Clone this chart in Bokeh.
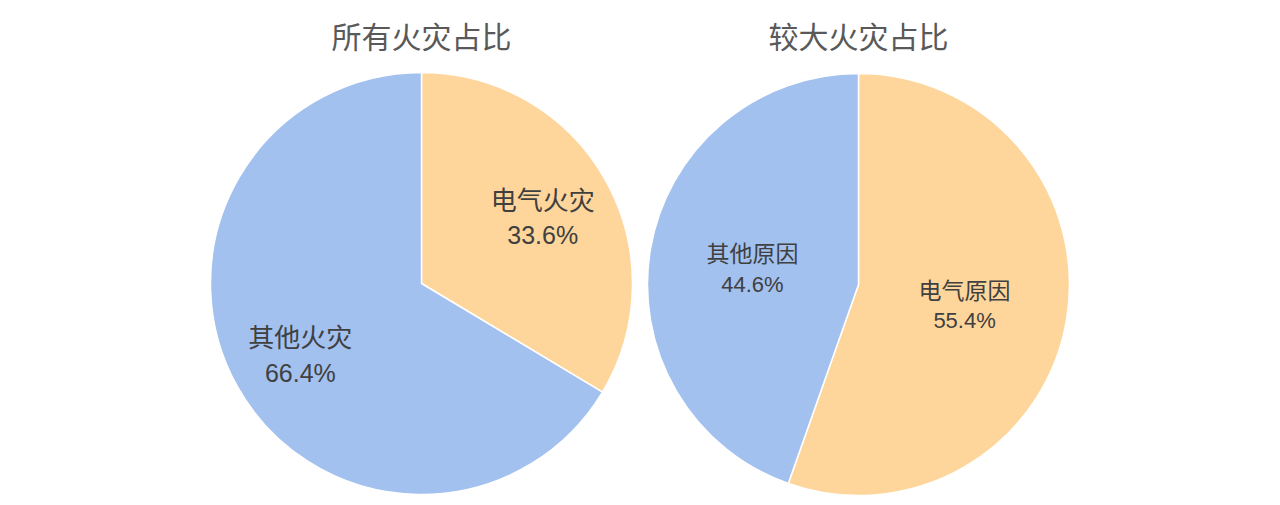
import numpy as np
from bokeh.plotting import figure
from bokeh.models import Range1d
from bokeh.core.properties import value
from bokeh.embed import file_html
from bokeh.resources import INLINE

# ---- data ----
titles = ["所有火灾占比", "较大火灾占比"]
all_fire_labels = ["电气火灾", "其他火灾"]
all_fire_values = [33.6, 66.4]
big_fire_labels = ["电气原因", "其他原因"]
big_fire_values = [55.4, 44.6]

# ---- style ----
COLORS = ["#FED69B", "#A2C1EF"]
W, H = 1280, 505
CJK = "Noto Sans CJK SC"
LATIN = "Liberation Sans"

p = figure(width=W, height=H, output_backend="svg", toolbar_location=None,
           x_range=Range1d(0, W), y_range=Range1d(0, H), min_border=0,
           tools="")
p.xaxis.visible = False
p.yaxis.visible = False
p.grid.visible = False
p.outline_line_color = None
p.background_fill_color = "white"
p.border_fill_color = "white"

pies = [
    dict(cx=421, cy=222, r=211, labels=all_fire_labels, values=all_fire_values,
         title=titles[0], lf=0.66, fs_cjk=26, fs_num=25, gap=37),
    dict(cx=858, cy=221, r=211, labels=big_fire_labels, values=big_fire_values,
         title=titles[1], lf=0.51, fs_cjk=23, fs_num=22, gap=32),
]

for pie in pies:
    vals = np.array(pie["values"], dtype=float)
    frac = vals / vals.sum()
    cum_end = np.cumsum(frac) * 2 * np.pi
    cum_start = cum_end - frac * 2 * np.pi
    mid = (cum_start + cum_end) / 2
    p.wedge(x=pie["cx"], y=pie["cy"], radius=pie["r"],
            start_angle=list(np.pi / 2 - cum_end),
            end_angle=list(np.pi / 2 - cum_start),
            direction="anticlock",
            fill_color=COLORS, line_color="white", line_width=1.5)
    rr = pie["lf"] * pie["r"]
    lx = pie["cx"] + rr * np.sin(mid)
    ly = pie["cy"] + rr * np.cos(mid) - 2
    g = pie["gap"] / 2
    p.text(x=list(lx), y=list(ly + g), text=pie["labels"],
           text_font=value(CJK), text_font_size=f"{pie['fs_cjk']}px",
           text_color="#404040", text_align="center", text_baseline="middle")
    pct = [f"{v:.1f}%" for v in pie["values"]]
    p.text(x=list(lx), y=list(ly - g), text=pct,
           text_font=value(LATIN), text_font_size=f"{pie['fs_num']}px",
           text_color="#404040", text_align="center", text_baseline="middle")
    p.text(x=[pie["cx"]], y=[H - 34], text=[pie["title"]],
           text_font=value(CJK), text_font_size="30px",
           text_color="#595959", text_align="center", text_baseline="middle")

open("out.html", "w").write(file_html(p, INLINE))
